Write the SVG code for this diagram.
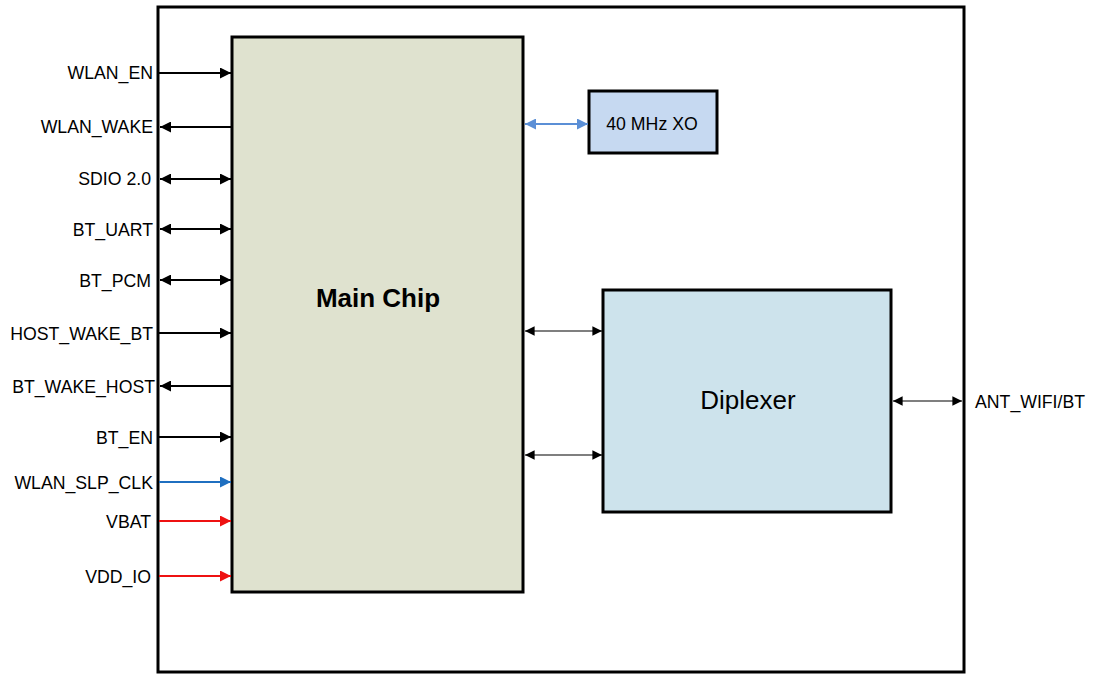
<svg xmlns="http://www.w3.org/2000/svg" width="1094" height="674" viewBox="0 0 1094 674">
<style>
.box{stroke:#000;stroke-width:3}
.lbl{font-family:"Liberation Sans",Arial,sans-serif;font-size:17.7px;fill:#000}
.sig{stroke:#000;stroke-width:2;fill:none}
.thin{stroke:#000;stroke-width:1.2;fill:none}
</style>
<defs>
<marker id="ak" viewBox="0 0 10 10" refX="10" refY="5" markerWidth="7" markerHeight="5.5" markerUnits="strokeWidth" orient="auto-start-reverse"><path d="M0,0L10,5L0,10z" fill="#000"/></marker>
<marker id="akt" viewBox="0 0 10 10" refX="10" refY="5" markerWidth="10" markerHeight="8" markerUnits="strokeWidth" orient="auto-start-reverse"><path d="M0,0L10,5L0,10z" fill="#000"/></marker>
<marker id="ab" viewBox="0 0 10 10" refX="10" refY="5" markerWidth="7" markerHeight="5.5" markerUnits="strokeWidth" orient="auto-start-reverse"><path d="M0,0L10,5L0,10z" fill="#1f6fc0"/></marker>
<marker id="ar" viewBox="0 0 10 10" refX="10" refY="5" markerWidth="7" markerHeight="5.5" markerUnits="strokeWidth" orient="auto-start-reverse"><path d="M0,0L10,5L0,10z" fill="#ee1111"/></marker>
<marker id="alb" viewBox="0 0 10 10" refX="10" refY="5" markerWidth="7" markerHeight="5.5" markerUnits="strokeWidth" orient="auto-start-reverse"><path d="M0,0L10,5L0,10z" fill="#5b8fd6"/></marker>
</defs>
<rect width="1094" height="674" fill="#fff"/>
<g id="module"><rect x="158" y="7" width="806" height="665" fill="#fff" class="box"/></g>
<g id="mainchip"><rect x="232" y="37" width="291" height="555" fill="#dfe2cf" class="box"/>
<text x="378" y="307" text-anchor="middle" font-family="Liberation Sans,Arial,sans-serif" font-size="26" font-weight="bold">Main Chip</text></g>
<g id="xo"><rect x="589" y="91" width="128" height="62" fill="#c6d9f1" class="box"/>
<text x="652" y="130" text-anchor="middle" class="lbl">40 MHz XO</text></g>
<g id="diplexer"><rect x="603" y="290" width="288" height="222" fill="#cde3ec" class="box"/>
<text x="748" y="409" text-anchor="middle" font-family="Liberation Sans,Arial,sans-serif" font-size="26">Diplexer</text></g>
<g id="labels" text-anchor="end">
<text x="153" y="79" class="lbl">WLAN_EN</text>
<text x="153" y="133" class="lbl">WLAN_WAKE</text>
<text x="151" y="185" class="lbl">SDIO 2.0</text>
<text x="153" y="236" class="lbl">BT_UART</text>
<text x="151" y="287" class="lbl">BT_PCM</text>
<text x="153" y="340" class="lbl">HOST_WAKE_BT</text>
<text x="155" y="393" class="lbl">BT_WAKE_HOST</text>
<text x="153" y="444" class="lbl">BT_EN</text>
<text x="153" y="489" class="lbl">WLAN_SLP_CLK</text>
<text x="151" y="528" class="lbl">VBAT</text>
<text x="151" y="583" class="lbl">VDD_IO</text>
<text x="975" y="408" text-anchor="start" class="lbl">ANT_WIFI/BT</text>
</g>
<g id="connectors">
<line x1="159" y1="73" x2="231" y2="73" class="sig" marker-end="url(#ak)"/>
<line x1="231" y1="127" x2="160" y2="127" class="sig" marker-end="url(#ak)"/>
<line x1="160" y1="179" x2="231" y2="179" class="sig" marker-start="url(#ak)" marker-end="url(#ak)"/>
<line x1="160" y1="229" x2="231" y2="229" class="sig" marker-start="url(#ak)" marker-end="url(#ak)"/>
<line x1="160" y1="280" x2="231" y2="280" class="sig" marker-start="url(#ak)" marker-end="url(#ak)"/>
<line x1="159" y1="333" x2="231" y2="333" class="sig" marker-end="url(#ak)"/>
<line x1="231" y1="386" x2="160" y2="386" class="sig" marker-end="url(#ak)"/>
<line x1="159" y1="437" x2="231" y2="437" class="sig" marker-end="url(#ak)"/>
<line x1="159" y1="482" x2="231" y2="482" stroke="#1f6fc0" stroke-width="2" marker-end="url(#ab)"/>
<line x1="159" y1="521" x2="231" y2="521" stroke="#ee1111" stroke-width="2" marker-end="url(#ar)"/>
<line x1="159" y1="576" x2="231" y2="576" stroke="#ee1111" stroke-width="2" marker-end="url(#ar)"/>
<line x1="525" y1="124" x2="588" y2="124" stroke="#5b8fd6" stroke-width="2" marker-start="url(#alb)" marker-end="url(#alb)"/>
<line x1="525" y1="331" x2="602" y2="331" class="thin" marker-start="url(#akt)" marker-end="url(#akt)"/>
<line x1="525" y1="455" x2="602" y2="455" class="thin" marker-start="url(#akt)" marker-end="url(#akt)"/>
<line x1="893" y1="401" x2="962" y2="401" class="thin" marker-start="url(#akt)" marker-end="url(#akt)"/>
</g>
</svg>
